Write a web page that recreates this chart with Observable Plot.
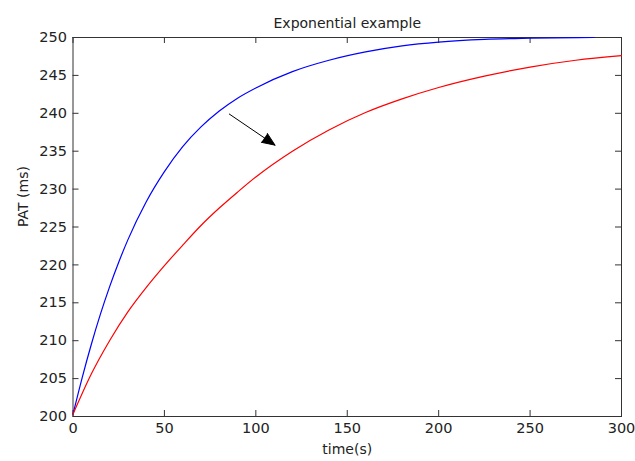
<!DOCTYPE html>
<html>
<head>
<meta charset="utf-8">
<script src="https://cdn.jsdelivr.net/npm/d3@7"></script>
<script src="https://cdn.jsdelivr.net/npm/@observablehq/plot@0.6"></script>
<style>
  html, body { margin: 0; padding: 0; background: #fff; }
</style>
</head>
<body>
<div id="chart"></div>
<script>
// ---- data ----
const title = "Exponential example";
const xLabel = "time(s)";
const yLabel = "PAT (ms)";
const xTicks = [0, 50, 100, 150, 200, 250, 300];
const yTicks = [200, 205, 210, 215, 220, 225, 230, 235, 240, 245, 250];

const blueTime  = [0, 5, 10, 15, 20, 25, 30, 40, 50, 60, 70, 80, 90, 100, 120, 140, 160, 180, 200, 225, 250, 285];
const blueValue = [200.3, 205.1, 209.5, 213.5, 217.1, 220.35, 223.3, 228.3, 232.3, 235.6, 238.2, 240.3, 242.0, 243.35, 245.5, 247.0, 248.1, 248.9, 249.4, 249.75, 249.9, 250];

const redTime  = [0, 10, 20, 30, 40, 50, 60, 70, 80, 90, 100, 120, 140, 160, 180, 200, 225, 250, 275, 300];
const redValue = [200.3, 205.6, 210, 213.8, 217, 219.9, 222.6, 225.2, 227.5, 229.6, 231.6, 235, 237.8, 240.1, 241.9, 243.4, 244.9, 246.1, 247, 247.6];

const arrowFrom = [85.5, 239.9];
const arrowTo = [110.5, 235.8];

// ---- build tables ----
const blue = blueTime.map((t, i) => ({t, v: blueValue[i]}));
const red = redTime.map((t, i) => ({t, v: redValue[i]}));
const arrows = [{x1: arrowFrom[0], y1: arrowFrom[1], x2: arrowTo[0], y2: arrowTo[1]}];

const W = 635, H = 461;
const mL = 72.5, mR = 14, mT = 37, mB = 45;
const innerH = H - mT - mB;
const innerW = W - mL - mR;
const tk = 6;
const axisColor = "#333";

const chart = Plot.plot({
  width: W,
  height: H,
  marginLeft: mL,
  marginRight: mR,
  marginTop: mT,
  marginBottom: mB,
  style: {fontFamily: "DejaVu Sans", fontSize: "14.5px", color: "#222", background: "#fff"},
  x: {domain: [0, 300]},
  y: {domain: [200, 250]},
  marks: [
    Plot.frame({stroke: axisColor}),
    // inward ticks on all four sides
    Plot.ruleX(xTicks, {x: d => d, insetTop: innerH - tk, stroke: axisColor}),
    Plot.ruleX(xTicks, {x: d => d, insetBottom: innerH - tk, stroke: axisColor}),
    Plot.ruleY(yTicks, {y: d => d, insetRight: innerW - tk, stroke: axisColor}),
    Plot.ruleY(yTicks, {y: d => d, insetLeft: innerW - tk, stroke: axisColor}),
    Plot.axisX({ticks: xTicks, tickSize: 0, tickPadding: 6, label: null, tickFormat: d => String(d)}),
    Plot.axisY({ticks: yTicks, tickSize: 0, tickPadding: 6, label: null, tickFormat: d => String(d)}),
    Plot.line(blue, {x: "t", y: "v", stroke: "#0000ff", strokeWidth: 1.2, curve: "monotone-x"}),
    Plot.line(red, {x: "t", y: "v", stroke: "#ff0000", strokeWidth: 1.2, curve: "monotone-x"}),
    Plot.arrow(arrows, {x1: "x1", y1: "y1", x2: "x2", y2: "y2", stroke: "#000", strokeWidth: 1, headLength: 21, headAngle: 45, ariaLabel: "arrow"}),
    Plot.text([title], {frameAnchor: "top", dy: -19, fontSize: 14, fill: "#222"}),
    Plot.text([xLabel], {frameAnchor: "bottom", dy: 37, fontSize: 14, fill: "#222"}),
    Plot.text([yLabel], {frameAnchor: "left", dx: -49, rotate: -90, fontSize: 14, fill: "#222"})
  ]
});

// fill the arrow head (the head subpath closes into a triangle)
d3.select(chart).selectAll('g[aria-label="arrow"] path').attr("fill", "#000").attr("stroke-linejoin", "miter");

document.getElementById("chart").appendChild(chart);
</script>
</body>
</html>
